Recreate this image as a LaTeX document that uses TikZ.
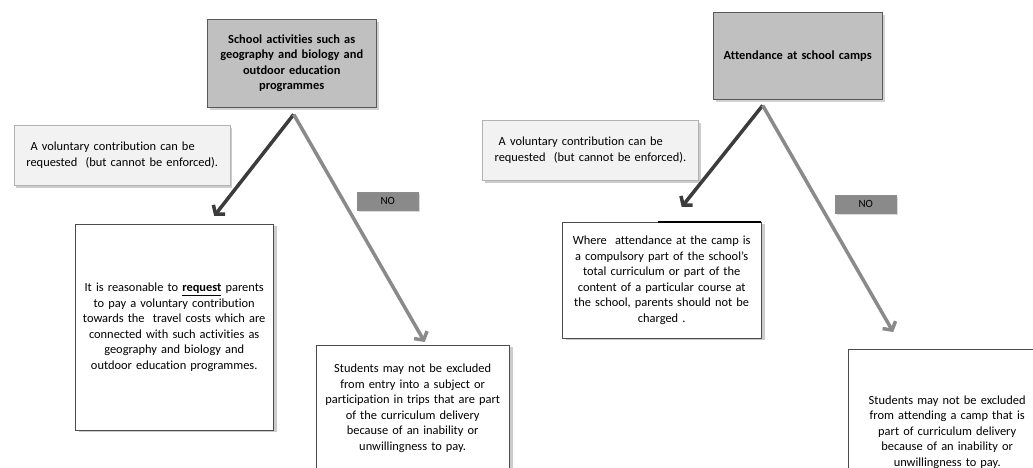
\documentclass[tikz,border=0pt]{standalone}
\usepackage{fontspec}
\setmainfont{Carlito}[Ligatures=NoCommon]
\usetikzlibrary{arrows.meta, positioning, shadows}
\definecolor{headfill}{HTML}{C0C0C0}
\definecolor{notefill}{HTML}{F2F2F2}
\definecolor{nofill}{HTML}{8A8A8A}
\definecolor{darkarrow}{HTML}{3C3C3C}
\definecolor{lightarrow}{HTML}{8A8A8A}

\begin{document}
\begin{tikzpicture}[x=1pt, y=-1pt,
  every node/.style={inner sep=0pt, font=\fontsize{12.4}{15.5}\selectfont},
  headbox/.style={draw=black!65, fill=headfill, align=center,
    font=\fontsize{12.4}{15.5}\selectfont\bfseries,
    drop shadow={shadow xshift=3pt, shadow yshift=-3pt, fill=black!35}},
  notebox/.style={draw=black!30, line width=0.8pt, fill=notefill, align=left,
    inner xsep=12pt, minimum height=60pt,
    drop shadow={shadow xshift=2pt, shadow yshift=-3pt, fill=black!40}},
  textbox/.style={draw=black!70, fill=white, align=center,
    drop shadow={shadow xshift=4pt, shadow yshift=-2pt, fill=black!40}},
  nobox/.style={draw=black!45, fill=nofill, minimum width=61pt, minimum height=18pt,
    font=\fontsize{11}{13}\selectfont,
    drop shadow={shadow xshift=2pt, shadow yshift=-2pt, fill=black!30}},
  yesarrow/.style={darkarrow, line width=3.5pt, -{Straight Barb[length=6pt,width=15pt]}},
  noarrow/.style={lightarrow, line width=3.5pt, -{Straight Barb[length=6pt,width=15pt]}}
]
  \useasboundingbox (0,0) rectangle (1033,468);
  \clip (0,0) rectangle (1033,468);

  % left tree: school activities
  \node[headbox, anchor=north west, text width=169pt, minimum height=88pt] (topL) at (207,19)
    {School activities such as\\ geography and biology and\\ outdoor education\\ programmes};
  \node[notebox, anchor=north west, text width=192pt] (volL) at (14,125)
    {\ A voluntary contribution can be\\ requested\ \ (but cannot be enforced).};
  \node[textbox, anchor=north west, text width=198pt, minimum height=206pt] (reqL) at (75,224)
    {It is reasonable to \underline{\textbf{request}} parents\\ to pay a voluntary contribution\\
     towards the\ \ travel costs which are\\ connected with such activities as\\
     geography and biology and\\ outdoor education programmes.};
  \node[textbox, anchor=north west, text width=193pt, minimum height=126pt] (noexL) at (316,345)
    {Students may not be excluded\\ from entry into a subject or\\ participation in trips that are part\\
     of the curriculum delivery\\ because of an inability or\\ unwillingness to pay.};
  \node[nobox, anchor=north west] (noL) at (357,192) {NO};

  \coordinate (apexL) at ([xshift=2pt, yshift=-7pt]topL.south);
  \draw[yesarrow] (apexL) -- ([xshift=40pt, yshift=8pt]reqL.north);
  \draw[noarrow] (apexL) -- ([xshift=12pt, yshift=3pt]noexL.north);

  % right tree: school camps
  \node[headbox, anchor=north west, text width=169pt, minimum height=87pt] (topR) at (713,12)
    {Attendance at school camps};
  \node[notebox, anchor=north east, text width=192pt] (volR) at (699,120)
    {\ A voluntary contribution can be\\ requested\ \ (but cannot be enforced).};
  \node[textbox, anchor=north west, text width=199pt, minimum height=116pt] (reqR) at (562,222)
    {Where\ \ attendance at the camp is\\ a compulsory part of the school's\\ total curriculum or part of the\\
     content of a particular course at\\ the school, parents should not be\\ charged .};
  \draw[line width=1.2pt] ([xshift=96pt]reqR.north west) -- (reqR.north east);
  \node[textbox, anchor=north west, text width=198pt, minimum height=166pt] (noexR) at (848,349)
    {Students may not be excluded\\ from attending a camp that is\\ part of curriculum delivery\\
     because of an inability or\\ unwillingness to pay.};
  \node[nobox, anchor=north west] (noR) at (835,195) {NO};

  \coordinate (apexR) at ([xshift=-35pt, yshift=-6pt]topR.south);
  \draw[yesarrow] (apexR) -- ([xshift=20pt, yshift=15pt]reqR.north);
  \draw[noarrow] (apexR) -- ([xshift=-54pt, yshift=17pt]noexR.north);
\end{tikzpicture}
\end{document}
